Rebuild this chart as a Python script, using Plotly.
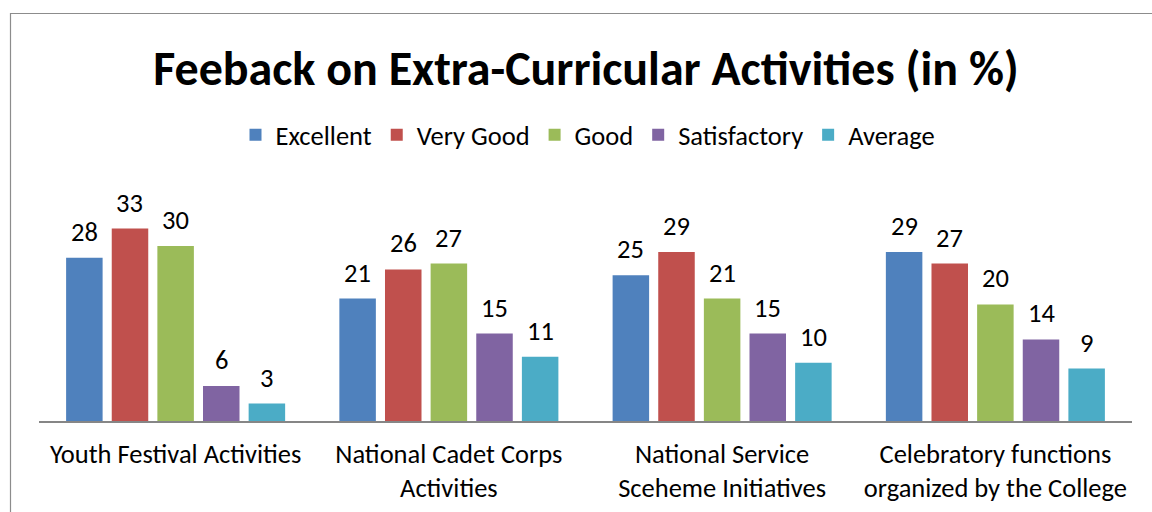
import plotly.graph_objects as go

categories = [
    "Youth Festival Activities",
    "National Cadet Corps<br>Activities",
    "National Service<br>Sceheme Initiatives",
    "Celebratory functions<br>organized by the College",
]
series_names = ["Excellent", "Very Good", "Good", "Satisfactory", "Average"]
excellent = [28, 21, 25, 29]
very_good = [33, 26, 29, 27]
good = [30, 27, 21, 20]
satisfactory = [6, 15, 15, 14]
average = [3, 11, 10, 9]
series_values = [excellent, very_good, good, satisfactory, average]
colors = ["#4F81BD", "#C0504D", "#9BBB59", "#8064A2", "#4BACC6"]

FONT = "Calibri, Carlito, Lato, sans-serif"
W, H = 1152, 512
ML, MR, MT, MB = 39, 20, 180, 91
BARGAP = 0.165
GROUPGAP = 0.2
FS = 26.5

fig = go.Figure()
for name, vals, col in zip(series_names, series_values, colors):
    fig.add_trace(go.Bar(
        name=name, x=list(range(len(categories))), y=vals,
        marker=dict(color=col, line=dict(width=0)),
    ))

# data labels as annotations positioned at each bar centre
n = len(series_names)
slot = (1 - BARGAP) / n
for j, vals in enumerate(series_values):
    off = (j - (n - 1) / 2) * slot
    for i, v in enumerate(vals):
        fig.add_annotation(
            x=i + off, y=v, xref="x", yref="y", text=str(v), showarrow=False,
            yanchor="middle", yshift=26, font=dict(family=FONT, size=FS, color="#000000"),
        )

pw = W - ML - MR
ph = H - MT - MB
fig.add_shape(
    type="rect", xref="paper", yref="paper",
    x0=(10.5 - ML) / pw, x1=(W + 20 - ML) / pw,
    y0=-(MB + 20) / ph, y1=(H - MB - 13.5) / ph,
    line=dict(color="#8C8C8C", width=1.2), fillcolor="rgba(0,0,0,0)", layer="below",
)

fig.update_layout(
    width=W, height=H,
    margin=dict(l=ML, r=MR, t=MT, b=MB, autoexpand=False),
    paper_bgcolor="white", plot_bgcolor="white",
    barmode="group", bargap=BARGAP, bargroupgap=GROUPGAP,
    font=dict(family=FONT, color="#000000"),
    title=dict(
        text="<b>Feeback on Extra-Curricular Activities (in %)</b>",
        x=586 / W, xref="container", xanchor="center",
        y=1 - 68 / H, yref="container", yanchor="middle",
        font=dict(family=FONT, size=48, color="#000000"),
    ),
    legend=dict(
        orientation="h", x=588 / W, xref="container", xanchor="center",
        y=1 - 135 / H, yref="container", yanchor="middle",
        font=dict(family=FONT, size=FS, color="#000000"),
        traceorder="normal",
    ),
    showlegend=True,
)
fig.update_xaxes(
    tickmode="array", tickvals=list(range(len(categories))), ticktext=categories,
    range=[-0.5, len(categories) - 0.5],
    showline=True, linecolor="#868686", linewidth=2, ticks="",
    showgrid=False, zeroline=False, automargin=False,
    tickfont=dict(family=FONT, size=FS, color="#000000"),
    ticklabelstandoff=8,
)
fig.update_yaxes(
    range=[0, (H - MB - MT) / 5.83], visible=False, showgrid=False, zeroline=False,
)

fig.write_html(
    "out.html",
    config={"displayModeBar": False},
    post_script="document.body.style.margin='0';",
)
